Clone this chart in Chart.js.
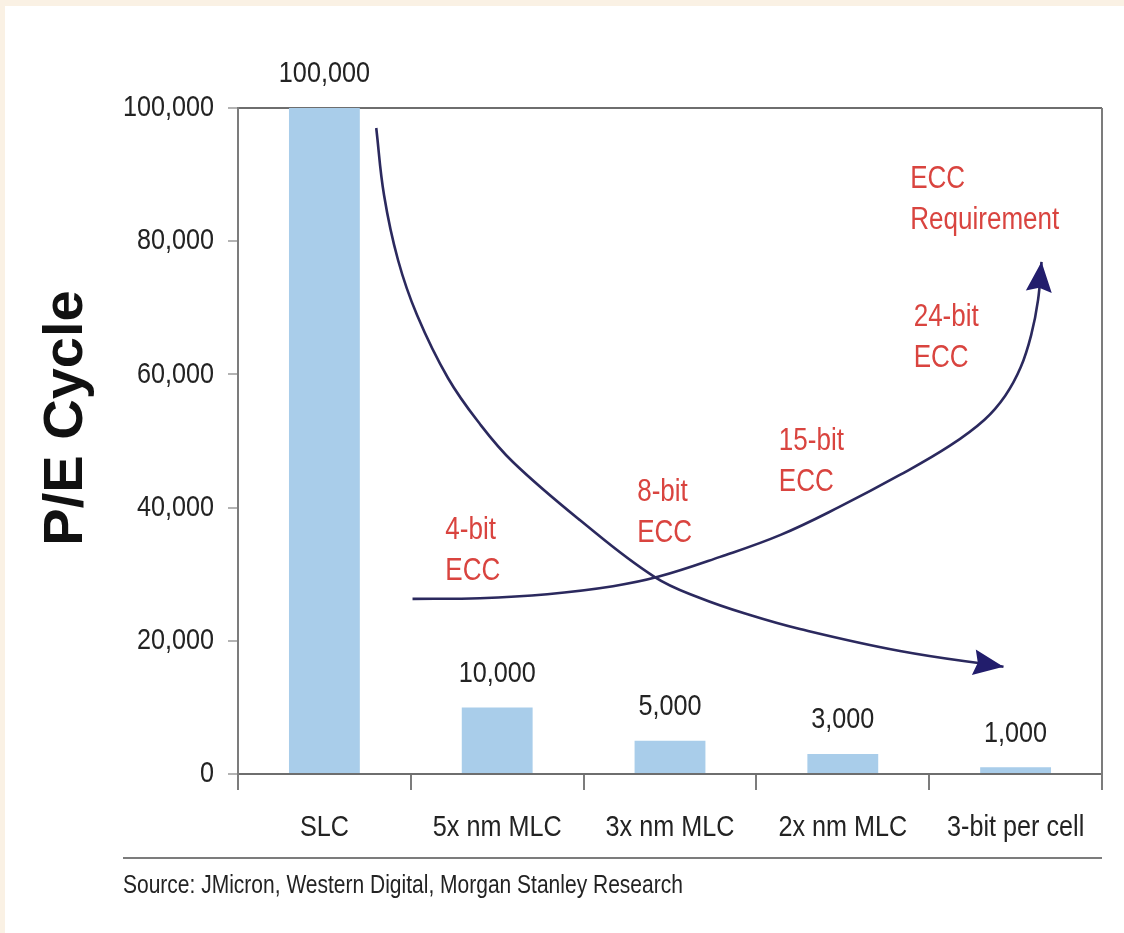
<!DOCTYPE html>
<html>
<head>
<meta charset="utf-8">
<title>P/E Cycle and ECC Requirement</title>
<script src="https://cdn.jsdelivr.net/npm/chart.js@4/dist/chart.umd.min.js"></script>
<style>
  html, body { margin: 0; padding: 0; background: #faf1e4; }
  canvas { display: block; }
</style>
</head>
<body>
<canvas id="chart" width="1124" height="933"></canvas>
<script>
// ---- data ----
const categories = ['SLC', '5x nm MLC', '3x nm MLC', '2x nm MLC', '3-bit per cell'];
const peCycles = [100000, 10000, 5000, 3000, 1000];
const yTickValues = [0, 20000, 40000, 60000, 80000, 100000];

// falling endurance trend (x = category position, y = P/E cycles)
const enduranceX = [0.30, 0.345, 0.426, 0.536, 0.715, 0.90, 1.091, 1.48, 1.91, 2.174, 2.463, 2.752, 3.331, 3.93];
const enduranceY = [97000, 86940, 77180, 68920, 59460, 52550, 46850, 38100, 29600, 26430, 23870, 21770, 18470, 16100];

// rising ECC requirement trend
const eccX = [0.51, 0.90, 1.29, 1.67, 1.93, 2.29, 2.64, 2.98, 3.33, 3.62, 3.82, 3.94, 4.03, 4.09, 4.13, 4.15];
const eccY = [26300, 26400, 27000, 28200, 29600, 32600, 35900, 40100, 44900, 49300, 53200, 56800, 61100, 65900, 71200, 76900];

// ECC call-outs along the rising trend
const eccNoteText = [['4-bit', 'ECC'], ['8-bit', 'ECC'], ['15-bit', 'ECC'], ['24-bit', 'ECC'], ['ECC', 'Requirement']];
const eccNoteX = [0.70, 1.81, 2.63, 3.41, 3.39];
const eccNoteY = [36600, 42200, 50000, 68600, 89200];

const sourceNote = 'Source: JMicron, Western Digital, Morgan Stanley Research';

// ---- styling ----
const SANS = "'Liberation Sans', Arial, sans-serif";
const NARROW_X = 0.84;          // horizontal squeeze giving a narrow face
const TEXT = '#232323';
const RED = '#d9443f';
const NAVY = '#2b295e';
const ARROW = '#221d6c';
const AXIS = '#7c7c7c';

const toPoints = (xs, ys) => xs.map((x, i) => ({ x: x, y: ys[i] }));
const fmt = v => Number(v).toLocaleString('en-US');

// draws condensed text by squeezing a regular face horizontally
function narrowText(ctx, text, x, y, align, size, color) {
  ctx.save();
  ctx.translate(x, y);
  ctx.scale(NARROW_X, 1);
  ctx.font = size + 'px ' + SANS;
  ctx.fillStyle = color;
  ctx.textAlign = align;
  ctx.textBaseline = 'middle';
  ctx.fillText(text, 0, 0);
  ctx.restore();
}

const pagePlugin = {
  id: 'page',
  beforeDraw(chart) {
    const { ctx, width, height } = chart;
    ctx.save();
    ctx.fillStyle = '#faf1e4';
    ctx.fillRect(0, 0, width, height);
    ctx.fillStyle = '#ffffff';
    ctx.fillRect(5, 6, width - 5, height - 6);
    ctx.restore();
  },
  afterDraw(chart) {
    const { ctx, chartArea, scales } = chart;
    ctx.save();
    // right frame line
    ctx.strokeStyle = AXIS;
    ctx.lineWidth = 2;
    ctx.beginPath();
    ctx.moveTo(chartArea.right, chartArea.top);
    ctx.lineTo(chartArea.right, chartArea.bottom + 16);
    ctx.stroke();
    // rule above the source line
    ctx.beginPath();
    ctx.moveTo(123, 858);
    ctx.lineTo(chartArea.right, 858);
    ctx.stroke();
    ctx.restore();

    // axis tick labels
    const ys = scales.y;
    ys.ticks.forEach((t, i) => {
      narrowText(ctx, fmt(t.value), ys.right - 24, ys.getPixelForTick(i), 'right', 30, TEXT);
    });
    const xs = scales.x;
    categories.forEach((c, i) => {
      narrowText(ctx, c, xs.getPixelForTick(i), 828, 'center', 30, TEXT);
    });

    // source
    narrowText(ctx, sourceNote, 123, 886, 'left', 25, TEXT);

    // axis title
    ctx.save();
    ctx.translate(67, 418);
    ctx.rotate(-Math.PI / 2);
    ctx.font = 'bold 56px ' + SANS;
    ctx.fillStyle = '#111111';
    ctx.textAlign = 'center';
    ctx.textBaseline = 'middle';
    ctx.fillText('P/E Cycle', 0, 0);
    ctx.restore();
  }
};

const notesPlugin = {
  id: 'notes',
  afterDatasetsDraw(chart) {
    const { ctx, scales } = chart;
    // bar value labels
    chart.getDatasetMeta(0).data.forEach((bar, i) => {
      narrowText(ctx, fmt(peCycles[i]), bar.x, bar.y - 34, 'center', 30, TEXT);
    });
    // arrowheads at the end of each trend line
    [1, 2].forEach(di => {
      const pts = chart.getDatasetMeta(di).data;
      const tip = pts[pts.length - 1];
      const prev = pts[pts.length - 2];
      const ang = Math.atan2(tip.y - prev.y, tip.x - prev.x);
      const len = 30, half = 13;
      ctx.save();
      ctx.translate(tip.x, tip.y);
      ctx.rotate(ang);
      ctx.fillStyle = ARROW;
      ctx.beginPath();
      ctx.moveTo(0, 0);
      ctx.lineTo(-len, -half);
      ctx.lineTo(-len + 4, 0);
      ctx.lineTo(-len, half);
      ctx.closePath();
      ctx.fill();
      ctx.restore();
    });
    // ECC call-outs
    eccNoteText.forEach((lines, i) => {
      const px = scales.xc.getPixelForValue(eccNoteX[i]);
      const py = scales.y.getPixelForValue(eccNoteY[i]);
      lines.forEach((t, j) => narrowText(ctx, t, px, py + j * 41, 'left', 31, RED));
    });
  }
};

new Chart(document.getElementById('chart'), {
  type: 'bar',
  data: {
    labels: categories,
    datasets: [
      {
        label: 'P/E Cycle',
        data: peCycles,
        backgroundColor: '#a9cdea',
        borderWidth: 0,
        grouped: false,
        barPercentage: 0.41,
        categoryPercentage: 1,
        xAxisID: 'x',
        order: 3
      },
      {
        type: 'line',
        label: 'Endurance trend',
        data: toPoints(enduranceX, enduranceY),
        xAxisID: 'xc',
        borderColor: NAVY,
        borderWidth: 2.6,
        pointRadius: 0,
        fill: false,
        tension: 0.4,
        order: 1
      },
      {
        type: 'line',
        label: 'ECC requirement',
        data: toPoints(eccX, eccY),
        xAxisID: 'xc',
        borderColor: NAVY,
        borderWidth: 2.6,
        pointRadius: 0,
        fill: false,
        tension: 0.4,
        order: 2
      }
    ]
  },
  options: {
    responsive: false,
    animation: false,
    layout: { padding: { top: 108, right: 22, left: 0, bottom: 79 } },
    plugins: { legend: { display: false }, tooltip: { enabled: false } },
    scales: {
      x: {
        type: 'category',
        offset: true,
        afterFit(scale) { scale.height = 80; },
        grid: {
          offset: true,
          drawOnChartArea: false,
          drawTicks: true,
          tickLength: 16,
          color: AXIS,
          lineWidth: 2
        },
        border: { display: true, color: '#6e6e6e', width: 2 },
        ticks: { display: false, autoSkip: false }
      },
      xc: {
        type: 'linear',
        display: false,
        offset: false,
        min: -0.5,
        max: 4.5
      },
      y: {
        type: 'linear',
        min: 0,
        max: 100000,
        afterFit(scale) { scale.width = 238; },
        afterBuildTicks(scale) { scale.ticks = yTickValues.map(v => ({ value: v })); },
        grid: {
          drawOnChartArea: true,
          color: ctx => (ctx.tick && ctx.tick.value === 100000) ? '#6e6e6e' : 'rgba(0,0,0,0)',
          lineWidth: 2,
          tickColor: '#9a9a9a',
          tickWidth: 1.5,
          tickLength: 10
        },
        border: { display: true, color: AXIS, width: 2 },
        ticks: { display: false }
      }
    }
  },
  plugins: [pagePlugin, notesPlugin]
});
</script>
</body>
</html>
